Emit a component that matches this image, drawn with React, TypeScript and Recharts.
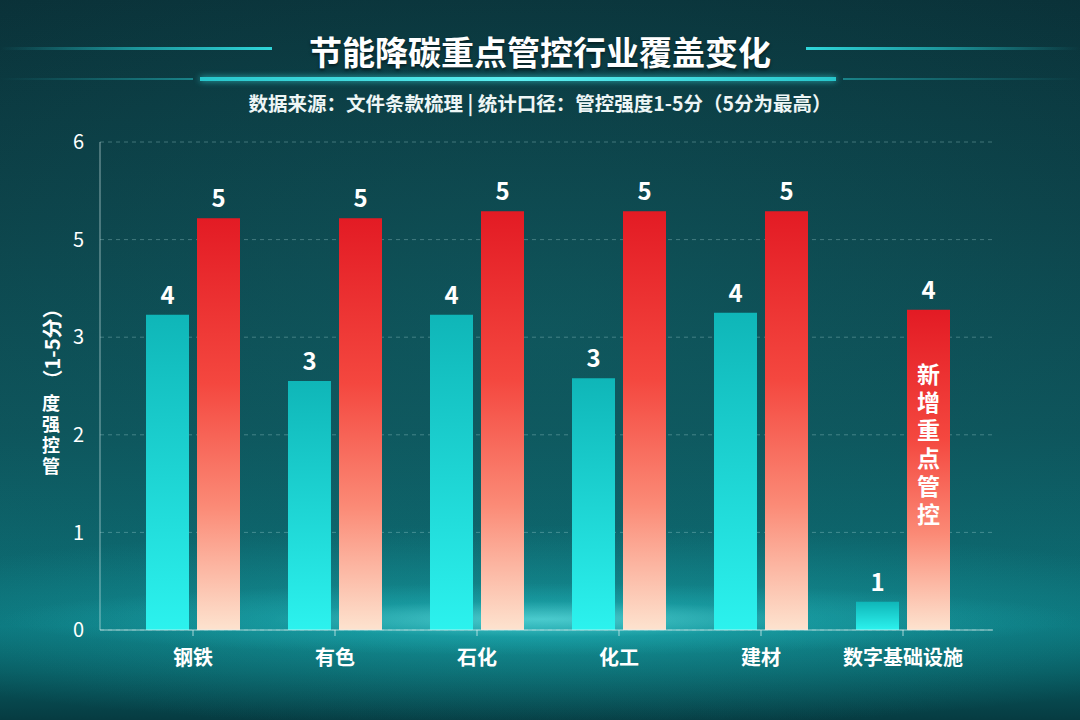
import { Bar, BarChart, CartesianGrid, LabelList, XAxis, YAxis } from 'recharts';

const CATEGORIES = ['钢铁', '有色', '石化', '化工', '建材', '数字基础设施'];
// score shown above each bar
const BEFORE_SCORE = [4, 3, 4, 3, 4, 1];
const AFTER_SCORE = [5, 5, 5, 5, 5, 4];
// bar heights as read against the axis grid (grid rows labelled 0,1,2,3,5,6)
const BEFORE_HEIGHT = [3.23, 2.55, 3.23, 2.58, 3.25, 0.29];
const AFTER_HEIGHT = [4.22, 4.22, 4.29, 4.29, 4.29, 3.28];
const Y_TICK_LABELS = ['0', '1', '2', '3', '5', '6'];
const NOTE_INDEX = 5;
const NOTE_TEXT = '新增重点管控';

const TITLE = '节能降碳重点管控行业覆盖变化';
const SUBTITLE = '数据来源：文件条款梳理 | 统计口径：管控强度1-5分（5分为最高）';

const FONT = '"Noto Sans CJK SC", "Noto Sans", sans-serif';

const data = CATEGORIES.map((name, i) => ({
  name,
  before: BEFORE_HEIGHT[i],
  after: AFTER_HEIGHT[i],
}));

function scoreLabel(scores: number[]) {
  return (props: any) => {
    const { x, y, width, index } = props;
    return (
      <text
        x={Number(x) + Number(width) / 2}
        y={Number(y) - 11}
        textAnchor="middle"
        fill="#ffffff"
        fontSize={24}
        fontWeight={700}
        fontFamily={FONT}
      >
        {scores[index]}
      </text>
    );
  };
}

function noteLabel(props: any) {
  const { x, width, index } = props;
  if (index !== NOTE_INDEX) return null;
  const cx = Number(x) + Number(width) / 2;
  // one vertical text, characters stacked upright
  return (
    <text
      x={cx}
      y={447}
      textAnchor="middle"
      fill="#ffffff"
      fontSize={23}
      fontWeight={700}
      fontFamily={FONT}
      letterSpacing={5}
      style={{ writingMode: 'vertical-rl' }}
    >
      {NOTE_TEXT}
    </text>
  );
}

function YTitle(props: any) {
  const vb = props.viewBox || {};
  const x = 51;
  const cy = Number(vb.y) + Number(vb.height) / 2;
  return (
    <g fontFamily={FONT} fontWeight={700} fill="#ffffff">
      <text
        x={x}
        y={cy - 42}
        textAnchor="middle"
        dominantBaseline="central"
        fontSize={20}
        transform={`rotate(-90 ${x} ${cy - 42})`}
      >
        （1-5分）
      </text>
      <text
        x={x}
        y={cy + 50}
        textAnchor="middle"
        fontSize={18}
        letterSpacing={3}
        style={{ writingMode: 'vertical-rl' }}
      >
        度强控管
      </text>
    </g>
  );
}

function XTick(props: any) {
  const { x, y, payload } = props;
  return (
    <text
      x={x}
      y={Number(y) + 27}
      textAnchor="middle"
      fill="#ffffff"
      fontSize={20}
      fontWeight={700}
      fontFamily={FONT}
    >
      {payload.value}
    </text>
  );
}

export default function App() {
  return (
    <div
      style={{
        position: 'absolute',
        left: 0,
        top: 0,
        width: 1080,
        height: 720,
        overflow: 'hidden',
        fontFamily: FONT,
        background:
          'radial-gradient(ellipse 50% 5% at 50% 86%, rgba(120,250,250,0.55) 0%, rgba(40,200,205,0.25) 50%, rgba(0,0,0,0) 100%),' +
          'radial-gradient(ellipse 70% 14% at 50% 87%, rgba(30,190,195,0.45) 0%, rgba(0,0,0,0) 100%),' +
          'radial-gradient(ellipse 80% 60% at 50% 45%, rgba(20,110,115,0.35) 0%, rgba(0,0,0,0) 100%),' +
          'linear-gradient(180deg, #0a3138 0%, #0c3f46 30%, #0d5259 60%, #0c6c73 82%, #0b7178 87%, #085a60 93%, #063b41 100%)',
      }}
    >
      {/* title decoration lines */}
      <div style={{ position: 'absolute', left: 0, top: 47, width: 272, height: 3, background: 'linear-gradient(90deg, rgba(40,210,215,0) 0%, rgba(40,210,215,0.6) 50%, #2fd6da 100%)' }} />
      <div style={{ position: 'absolute', left: 806, top: 47, width: 274, height: 3, background: 'linear-gradient(90deg, #2fd6da 0%, rgba(40,210,215,0.6) 50%, rgba(40,210,215,0) 100%)' }} />
      <div style={{ position: 'absolute', left: 0, top: 78, width: 193, height: 2, background: 'linear-gradient(90deg, rgba(40,200,205,0) 0%, rgba(40,200,205,0.5) 100%)' }} />
      <div style={{ position: 'absolute', left: 200, top: 77, width: 636, height: 4, background: 'linear-gradient(90deg, #27c6cc 0%, #5ef0f2 50%, #27c6cc 100%)', boxShadow: '0 0 6px rgba(60,230,235,0.7)' }} />
      <div style={{ position: 'absolute', left: 843, top: 78, width: 237, height: 2, background: 'linear-gradient(90deg, rgba(40,200,205,0.5) 0%, rgba(40,200,205,0) 100%)' }} />
      <div
        style={{
          position: 'absolute',
          left: 0,
          top: 29,
          width: 1080,
          textAlign: 'center',
          color: '#ffffff',
          fontSize: 33,
          fontWeight: 700,
          lineHeight: '44px',
          textShadow: '0 2px 3px rgba(0,0,0,0.5)',
        }}
      >
        {TITLE}
      </div>
      <div
        style={{
          position: 'absolute',
          left: 0,
          top: 89,
          width: 1080,
          textAlign: 'center',
          color: '#eef6f6',
          fontSize: 19.5,
          fontWeight: 600,
          lineHeight: '28px',
        }}
      >
        {SUBTITLE}
      </div>

      <div style={{ position: 'absolute', left: 0, top: 0 }}>
        <BarChart
          width={1080}
          height={720}
          data={data}
          margin={{ top: 142, right: 87, bottom: 60, left: 40 }}
          barSize={43}
          barGap={8}
        >
          <defs>
            <linearGradient id="gradBefore" x1="0" y1="0" x2="0" y2="1">
              <stop offset="0%" stopColor="#0fb6b8" />
              <stop offset="100%" stopColor="#2cf2ee" />
            </linearGradient>
            <linearGradient id="gradAfter" x1="0" y1="0" x2="0" y2="1">
              <stop offset="0%" stopColor="#e31b24" />
              <stop offset="40%" stopColor="#f4473f" />
              <stop offset="70%" stopColor="#fb8a76" />
              <stop offset="100%" stopColor="#fde3cf" />
            </linearGradient>
          </defs>
          <CartesianGrid
            vertical={false}
            stroke="rgba(170,215,215,0.35)"
            strokeDasharray="4 4"
          />
          <XAxis
            dataKey="name"
            height={30}
            padding={{ left: 22, right: 19 }}
            stroke="rgba(220,240,240,0.75)"
            tickLine={{ stroke: 'rgba(220,240,240,0.75)' }}
            tickSize={6}
            tick={<XTick />}
            interval={0}
          />
          <YAxis
            width={60}
            domain={[0, 5]}
            ticks={[0, 1, 2, 3, 4, 5]}
            tickFormatter={(v: number) => Y_TICK_LABELS[v]}
            stroke="rgba(220,240,240,0.6)"
            tickLine={false}
            tick={{ fill: '#ffffff', fontSize: 20, fontFamily: FONT }}
            tickMargin={10}
            label={{ content: <YTitle /> }}
          />
          <Bar dataKey="before" fill="url(#gradBefore)" isAnimationActive={false}>
            <LabelList dataKey="before" content={scoreLabel(BEFORE_SCORE)} />
          </Bar>
          <Bar dataKey="after" fill="url(#gradAfter)" isAnimationActive={false}>
            <LabelList dataKey="after" content={scoreLabel(AFTER_SCORE)} />
            <LabelList dataKey="after" content={noteLabel} />
          </Bar>
        </BarChart>
      </div>
    </div>
  );
}
